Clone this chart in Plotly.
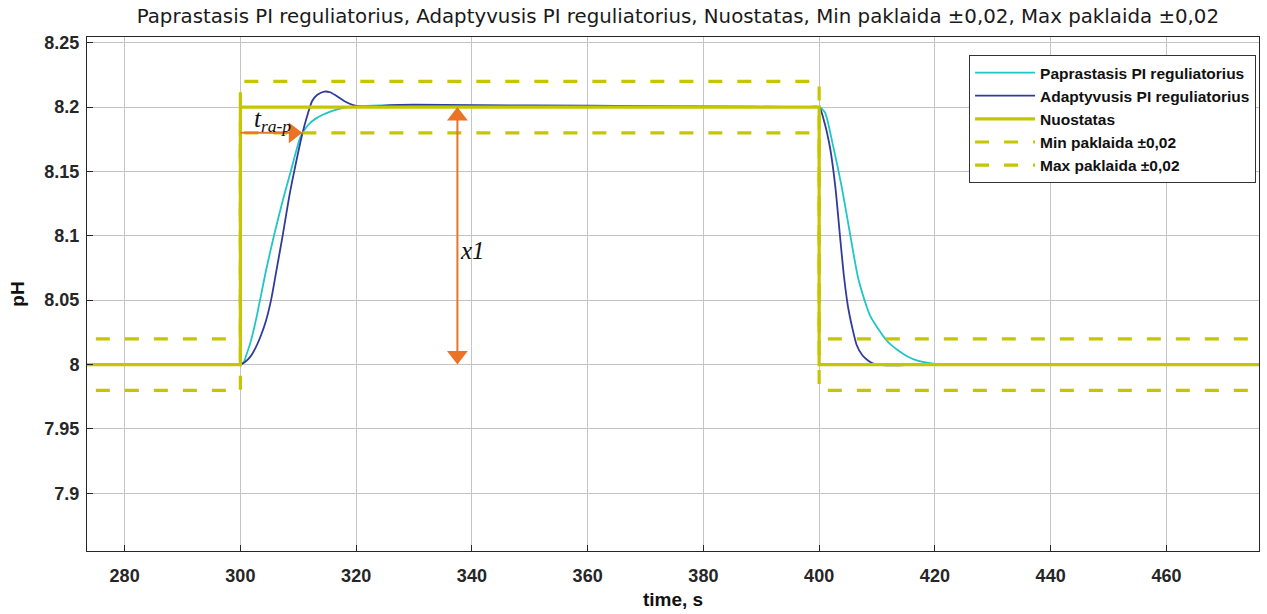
import plotly.graph_objects as go

# Setpoint (Nuostatas) and tolerance bands (±0.02)
time_setpoint = [260, 300, 300, 400, 400, 490]
ph_setpoint = [8.0, 8.0, 8.2, 8.2, 8.0, 8.0]
ph_min_band = [7.98, 7.98, 8.18, 8.18, 7.98, 7.98]
ph_max_band = [8.02, 8.02, 8.22, 8.22, 8.02, 8.02]

# Conventional PI controller response
time_pi = [260, 290, 298, 300, 300.6, 301.0, 301.8, 302.9, 304.4, 305.8, 307.3, 308.7,
           310.4, 311.6, 313.0, 315.9, 318.0, 320.0, 324.0, 330.0, 340.0, 360.0, 380.0,
           398.0, 400.0, 401.0, 402.4, 403.9, 405.4, 406.8, 408.8, 411.7, 413.5, 415.2,
           417.0, 419.7, 422.0, 430.0, 490]
ph_pi = [8.0, 8.0, 8.0, 8.0, 8.002, 8.007, 8.018, 8.039, 8.0725, 8.1, 8.127, 8.15,
         8.177, 8.1855, 8.191, 8.197, 8.1995, 8.2005, 8.2012, 8.2012, 8.201, 8.2005, 8.2002,
         8.2, 8.2, 8.196, 8.170, 8.138, 8.1, 8.066, 8.038, 8.0185, 8.0115, 8.0065,
         8.003, 8.0007, 8.0, 8.0, 8.0]

# Adaptive PI controller response
time_api = [260, 290, 298, 300, 300.8, 301.7, 302.6, 303.5, 304.4, 305.3, 306.1, 307.3,
            308.4, 309.3, 310.7, 311.6, 312.4, 313.3, 314.5, 315.5, 316.5, 318.0, 319.5,
            321.0, 323.0, 326.0, 330.0, 340.0, 360.0, 380.0, 398.0, 400.0,
            400.8, 401.9, 402.8, 403.6, 404.3, 405.1, 406.5, 407.5, 408.5, 409.5, 411.0,
            413.0, 416.0, 420.0, 430.0, 490]
ph_api = [8.0, 8.0, 8.0, 8.0, 8.002, 8.006, 8.0128, 8.022, 8.0336, 8.05, 8.0698, 8.1,
          8.1295, 8.15, 8.179, 8.194, 8.2047, 8.2095, 8.212, 8.2115, 8.209, 8.2045, 8.2015,
          8.2003, 8.2005, 8.2015, 8.2018, 8.2015, 8.201, 8.2005, 8.2, 8.2,
          8.19, 8.168, 8.138, 8.1, 8.068, 8.042, 8.015, 8.007, 8.003, 8.0005, 7.9995,
          7.9993, 7.9998, 8.0, 8.0, 8.0]

x_ticks = [280, 300, 320, 340, 360, 380, 400, 420, 440, 460]
y_ticks = [7.9, 7.95, 8.0, 8.05, 8.1, 8.15, 8.2, 8.25]
y_tick_text = ["7.9", "7.95", "8", "8.05", "8.1", "8.15", "8.2", "8.25"]

# Annotation anchors (data coordinates)
rise_time_start = 300
rise_time_end = 310.7
rise_level = 8.18
amplitude_x = 337.5
amplitude_low = 8.0
amplitude_high = 8.2
amplitude_mid = (amplitude_low + amplitude_high) / 2

CYAN = "#1fc6c6"
BLUE = "#2f3c9c"
YELLOW = "#c6c600"
ORANGE = "#eb7326"
TEXT = "#262626"

fig = go.Figure()
fig.add_trace(go.Scatter(x=time_pi, y=ph_pi, mode="lines", name="Paprastasis PI reguliatorius",
                         line=dict(color=CYAN, width=1.8, shape="spline", smoothing=0.6)))
fig.add_trace(go.Scatter(x=time_api, y=ph_api, mode="lines", name="Adaptyvusis PI reguliatorius",
                         line=dict(color=BLUE, width=1.8, shape="spline", smoothing=0.6)))
fig.add_trace(go.Scatter(x=time_setpoint, y=ph_setpoint, mode="lines", name="Nuostatas",
                         line=dict(color=YELLOW, width=3.2)))
fig.add_trace(go.Scatter(x=time_setpoint, y=ph_min_band, mode="lines", name="Min paklaida ±0,02",
                         line=dict(color=YELLOW, width=3.2, dash="14px,15px")))
fig.add_trace(go.Scatter(x=time_setpoint, y=ph_max_band, mode="lines", name="Max paklaida ±0,02",
                         line=dict(color=YELLOW, width=3.2, dash="14px,15px")))


def arrow(x0, y0, x1, y1):
    """Orange arrow from (x0, y0) with a filled triangular head ending at (x1, y1)."""
    fig.add_trace(go.Scatter(
        x=[x0, x1], y=[y0, y1], mode="lines+markers", showlegend=False, hoverinfo="skip",
        line=dict(color=ORANGE, width=2),
        marker=dict(symbol="triangle-up", size=[0, 18], angleref="previous", standoff=9,
                    color=ORANGE, opacity=1, line=dict(width=0)),
    ))


# Rise-time arrow and amplitude double arrow
arrow(rise_time_start, rise_level, rise_time_end, rise_level)
arrow(amplitude_x, amplitude_mid, amplitude_x, amplitude_high)
arrow(amplitude_x, amplitude_mid, amplitude_x, amplitude_low)

fig.add_annotation(x=305.6, y=8.1895, xref="x", yref="y", showarrow=False,
                   text="<i>t<sub>ra-p</sub></i>",
                   font=dict(family="Liberation Serif", size=25, color="#111111"))
fig.add_annotation(x=340.1, y=8.0883, xref="x", yref="y", showarrow=False,
                   text="<i>x1</i>",
                   font=dict(family="Liberation Serif", size=25, color="#111111"))

axis_common = dict(
    showgrid=True, gridcolor="#c4c4c4", gridwidth=1,
    showline=True, linecolor=TEXT, linewidth=1, mirror=True,
    ticks="inside", ticklen=6, tickcolor=TEXT, zeroline=False,
    tickfont=dict(family="Liberation Sans", size=18, color=TEXT, weight="bold"),
)

fig.update_xaxes(range=[273.5, 476.0], tickvals=x_ticks, ticklabelstandoff=8,
                 title=dict(text="time, s", standoff=8,
                            font=dict(family="Liberation Sans", size=19, color="#111111", weight="bold")),
                 **axis_common)
fig.update_yaxes(range=[7.8552, 8.2544], tickvals=y_ticks, ticktext=y_tick_text,
                 ticklabelstandoff=3,
                 title=dict(text="pH", standoff=14,
                            font=dict(family="Liberation Sans", size=19, color="#111111", weight="bold")),
                 **axis_common)

fig.update_layout(
    width=1267, height=614,
    margin=dict(l=87, r=8, t=37, b=63),
    plot_bgcolor="white", paper_bgcolor="white",
    title=dict(text="Paprastasis PI reguliatorius, Adaptyvusis PI reguliatorius, Nuostatas, "
                    "Min paklaida ±0,02, Max paklaida ±0,02",
               x=0.535, xanchor="center", y=1 - 16 / 614, yanchor="middle",
               xref="container", yref="container",
               font=dict(family="DejaVu Sans", size=19.8, color="#1a1a1a")),
    legend=dict(x=0.9975, xanchor="right", y=0.965, yanchor="top",
                bgcolor="white", bordercolor="#333333", borderwidth=1,
                font=dict(family="Liberation Sans", size=15.5, color="#111111", weight="bold"),
                itemwidth=60, tracegroupgap=0),
    showlegend=True,
)

fig.write_html("out.html")
